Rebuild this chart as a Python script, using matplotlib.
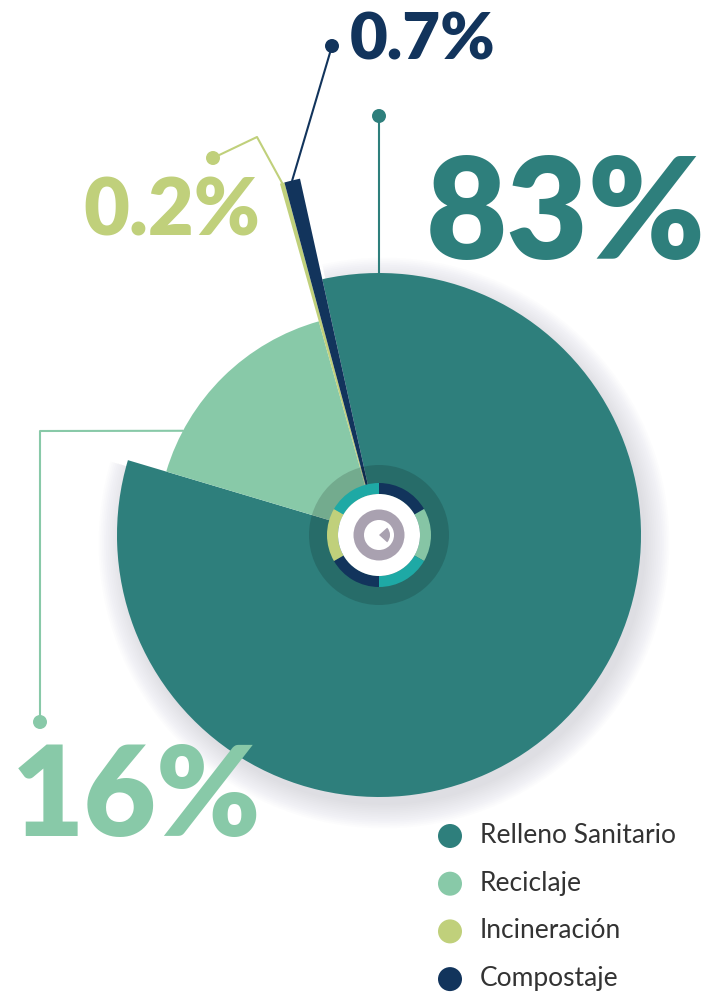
import numpy as np
import matplotlib.pyplot as plt
from matplotlib.patches import Wedge, Circle

# waste destination shares (%)
categories = ['Relleno Sanitario', 'Reciclaje', 'Incineración', 'Compostaje']
shares = [83, 16, 0.2, 0.7]
share_labels = ['83%', '16%', '0.2%', '0.7%']
colors = ['#2E7F7C', '#88C9A8', '#C0D07B', '#12345C']

# colours of the small ring drawn in the middle of the pie
ring_colors = ['#12345C', '#86C5A5', '#1EA9A5', '#12345C', '#C0D07B', '#1EA9A5']

W, H = 719, 992
cx, cy = 379, H - 535
radii = [262, 222, 365, 365]

fig = plt.figure(figsize=(W / 100, H / 100), dpi=100)
ax = fig.add_axes([0, 0, 1, 1])

wedges, _ = ax.pie(shares, colors=colors, startangle=102.5, counterclock=False,
                   center=(cx, cy), radius=1, wedgeprops=dict(linewidth=0, zorder=2))
for w, r in zip(wedges, radii):
    w.set_radius(r)

# soft drop shadow under the big wedge
big = wedges[0]
for k in range(14):
    ax.add_patch(Wedge((cx + 5, cy - 8), radii[0] + 1.8 * k, big.theta1, big.theta2,
                       color='#8c8ca6', alpha=0.02, lw=0, zorder=1))

# centre badge
ax.add_patch(Circle((cx, cy), 70, color='black', alpha=0.15, lw=0, zorder=3))
ax.pie([1] * len(ring_colors), colors=ring_colors, startangle=90, counterclock=False,
       center=(cx, cy), radius=52, wedgeprops=dict(width=11, linewidth=0, zorder=4))
ax.add_patch(Circle((cx, cy), 41, color='white', lw=0, zorder=5))
ax.add_patch(Wedge((cx, cy), 25.5, 0, 360, width=10.5, color='#A9A1B0', lw=0, zorder=6))
ax.add_patch(Wedge((cx, cy), 11, -42, 42, color='#A9A1B0', lw=0, zorder=6))


def rim(w, ang=None):
    if ang is None:
        ang = 0.5 * (w.theta1 + w.theta2)
    a = np.deg2rad(ang)
    return cx + w.r * np.cos(a), cy + w.r * np.sin(a)


def leader(points, color):
    xs, ys = zip(*points)
    ax.plot(xs, ys, color=color, lw=1.5, solid_capstyle='round', zorder=2.5)
    ax.add_patch(Circle(points[-1], 7, color=color, lw=0, zorder=7))


leader([rim(wedges[0], 90), (cx, H - 116)], colors[0])
leader([rim(wedges[1], 152), (40, H - 431), (40, H - 722)], colors[1])
leader([rim(wedges[2]), (257, H - 137), (213, H - 158)], colors[2])
leader([rim(wedges[3]), (332, H - 46)], colors[3])

big_font = dict(family=['Lato', 'DejaVu Sans'], fontweight='heavy', ha='left', va='baseline')
ax.text(426, H - 259, share_labels[0], color=colors[0], fontsize=101, **big_font)
ax.text(12, H - 836, share_labels[1], color=colors[1], fontsize=90, **big_font)
ax.text(83, H - 236, share_labels[2], color=colors[2], fontsize=57, **big_font)
ax.text(350, H - 59, share_labels[3], color=colors[3], fontsize=47, **big_font)

# legend
for i, (name, col) in enumerate(zip(categories, colors)):
    y = H - (836 + 47.7 * i)
    ax.add_patch(Circle((450, y), 12, color=col, lw=0))
    ax.text(480, y - 7, name, fontsize=19, color='#333333', va='baseline',
            family=['Lato', 'DejaVu Sans'])

ax.set_xlim(0, W)
ax.set_ylim(0, H)
ax.set_aspect('equal')
ax.axis('off')

fig.savefig('out.png', dpi=100, facecolor='white')
